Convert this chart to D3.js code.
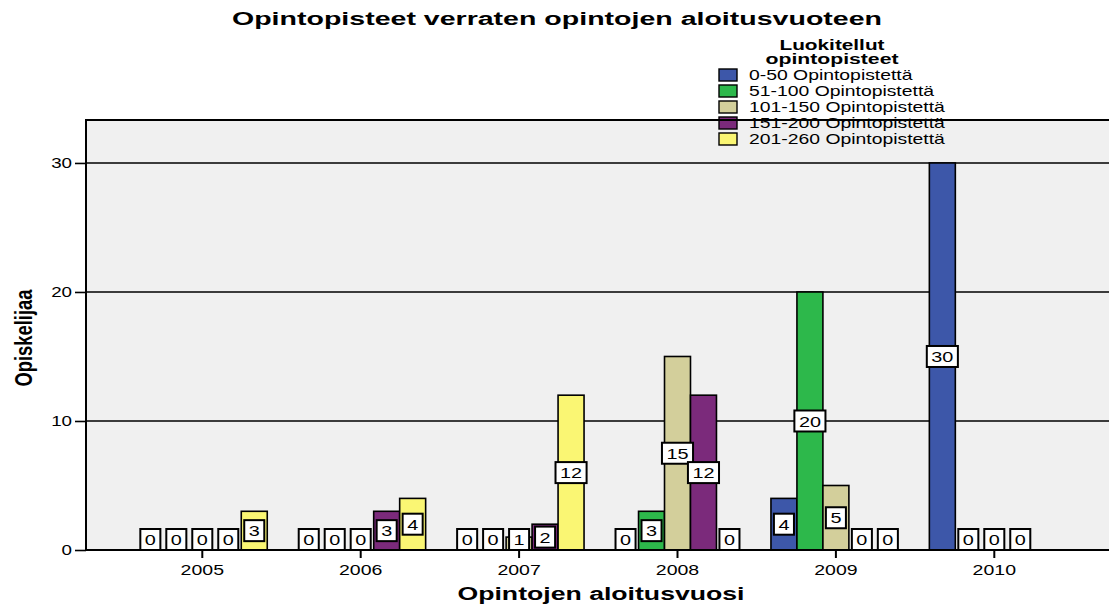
<!DOCTYPE html>
<html>
<head>
<meta charset="utf-8">
<script src="https://cdn.jsdelivr.net/npm/d3@7"></script>
<style>
    body { margin: 0; background: #fff; }
    text { font-family: "Liberation Sans", Arial, sans-serif; fill: #000; }
</style>
</head>
<body>
<div id="chart"></div>
<script>
// Opintopisteet verraten opintojen aloitusvuoteen

var years = ["2005", "2006", "2007", "2008", "2009", "2010"];
var seriesNames = ["0-50 Opintopistettä", "51-100 Opintopistettä", "101-150 Opintopistettä",
    "151-200 Opintopistettä", "201-260 Opintopistettä"];
var seriesColors = ["#3d57a9", "#2db84b", "#d3cf9b", "#7b2a7b", "#faf673"];

// students per year, one list per credit class (null = no label)
var credits0to50 = [0, 0, 0, 0, 4, 30];
var credits51to100 = [0, 0, 0, 3, 20, 0];
var credits101to150 = [0, 0, 1, 15, 5, 0];
var credits151to200 = [0, 3, 2, 12, 0, 0];
var credits201to260 = [3, 4, 12, 0, 0, null];

var yTicks = [0, 10, 20, 30];

var seriesValues = [credits0to50, credits51to100, credits101to150, credits151to200, credits201to260];

var W = 1109, H = 604;
var plot = {left: 86, top: 120, right: 1109, bottom: 550};

var svg = d3.select("#chart").append("svg")
    .attr("width", W)
    .attr("height", H);

// stretch text horizontally, the original export looks widened
function stretch(sel, k) {
    sel.each(function() {
        var w = this.getComputedTextLength();
        d3.select(this).attr("textLength", w * k).attr("lengthAdjust", "spacingAndGlyphs");
    });
}

var x = d3.scaleBand()
    .domain(years)
    .range([123.1, 1073.5])
    .paddingInner(0.18)
    .paddingOuter(0.09);

var xSub = d3.scaleBand()
    .domain(d3.range(seriesNames.length))
    .range([0, x.bandwidth()]);

var y = d3.scaleLinear()
    .domain([0, 33.33])
    .range([plot.bottom, plot.top]);

// background
svg.append("rect")
    .attr("x", plot.left)
    .attr("y", plot.top)
    .attr("width", plot.right - plot.left)
    .attr("height", plot.bottom - plot.top)
    .attr("fill", "#f0f0f0");

// grid
svg.selectAll("line.grid")
    .data(yTicks.filter(function(d) { return d > 0; }))
    .enter().append("line")
    .attr("class", "grid")
    .attr("x1", plot.left).attr("x2", plot.right)
    .attr("y1", function(d) { return y(d); })
    .attr("y2", function(d) { return y(d); })
    .attr("stroke", "#000")
    .attr("stroke-width", 1.6);

// flatten data
var cells = [];
years.forEach(function(yr, i) {
    seriesValues.forEach(function(vals, s) {
        cells.push({year: yr, s: s, v: vals[i]});
    });
});

var bars = svg.append("g");
bars.selectAll("rect")
    .data(cells.filter(function(d) { return d.v > 0; }))
    .enter().append("rect")
    .attr("x", function(d) { return x(d.year) + xSub(d.s); })
    .attr("y", function(d) { return y(d.v); })
    .attr("width", xSub.bandwidth())
    .attr("height", function(d) { return y(0) - y(d.v); })
    .attr("fill", function(d) { return seriesColors[d.s]; })
    .attr("stroke", "#000")
    .attr("stroke-width", 1.6);

// value labels
var boxH = 21;
var lab = svg.append("g").selectAll("g")
    .data(cells.filter(function(d) { return d.v !== null; }))
    .enter().append("g")
    .attr("transform", function(d) {
        var cx = x(d.year) + xSub(d.s) + xSub.bandwidth() / 2;
        var cy = Math.min(y(d.v / 2), y(0) - boxH / 2);
        return "translate(" + cx + "," + cy + ")";
    });

lab.append("rect");
lab.append("text")
    .attr("text-anchor", "middle")
    .attr("dy", "0.36em")
    .style("font-size", "15.5px")
    .text(function(d) { return d.v; })
    .call(stretch, 1.28);

lab.each(function() {
    var g = d3.select(this);
    var w = +g.select("text").attr("textLength") + 9;
    g.select("rect")
        .attr("x", -w / 2).attr("y", -boxH / 2)
        .attr("width", w).attr("height", boxH)
        .attr("fill", "#fff")
        .attr("stroke", "#000")
        .attr("stroke-width", 2);
});

// legend
var lx = 719, ly = 75;
svg.append("text")
    .attr("x", 832).attr("y", 50)
    .attr("text-anchor", "middle")
    .style("font-size", "14.5px").style("font-weight", "bold")
    .attr("textLength", 105).attr("lengthAdjust", "spacingAndGlyphs")
    .text("Luokitellut");
svg.append("text")
    .attr("x", 832).attr("y", 64)
    .attr("text-anchor", "middle")
    .style("font-size", "14.5px").style("font-weight", "bold")
    .attr("textLength", 133).attr("lengthAdjust", "spacingAndGlyphs")
    .text("opintopisteet");

var legend = svg.selectAll("g.legend")
    .data(seriesNames)
    .enter().append("g")
    .attr("class", "legend")
    .attr("transform", function(d, i) { return "translate(" + lx + "," + (ly + i * 16) + ")"; });

legend.append("rect")
    .attr("x", 0).attr("y", -6)
    .attr("width", 18).attr("height", 12)
    .attr("fill", function(d, i) { return seriesColors[i]; })
    .attr("stroke", "#000")
    .attr("stroke-width", 1.4);

legend.append("text")
    .attr("x", 30)
    .attr("dy", "0.36em")
    .style("font-size", "15px")
    .text(function(d) { return d; })
    .call(stretch, 1.29);

// frame: top border and axes over everything
svg.append("line")
    .attr("x1", plot.left).attr("x2", plot.right)
    .attr("y1", plot.top).attr("y2", plot.top)
    .attr("stroke", "#000").attr("stroke-width", 2);

var yAxis = svg.append("g")
    .attr("transform", "translate(" + plot.left + ",0)")
    .call(d3.axisLeft(y).tickValues(yTicks).tickSize(11).tickPadding(3));
yAxis.select(".domain").remove();
yAxis.selectAll(".tick line").attr("stroke", "#000").attr("stroke-width", 1.6);
yAxis.selectAll(".tick text")
    .style("font-size", "15px").style("font-family", "Liberation Sans, Arial, sans-serif")
    .call(stretch, 1.25);

svg.append("line")
    .attr("x1", plot.left).attr("x2", plot.left)
    .attr("y1", plot.top - 1).attr("y2", plot.bottom + 1)
    .attr("stroke", "#000").attr("stroke-width", 2);

var xAxis = svg.append("g")
    .attr("transform", "translate(0," + plot.bottom + ")")
    .call(d3.axisBottom(x).tickSize(8).tickPadding(6));
xAxis.select(".domain").remove();
xAxis.selectAll(".tick line").attr("stroke", "#000").attr("stroke-width", 2);
xAxis.selectAll(".tick text")
    .style("font-size", "15px").style("font-family", "Liberation Sans, Arial, sans-serif")
    .call(stretch, 1.3);

svg.append("line")
    .attr("x1", plot.left).attr("x2", plot.right)
    .attr("y1", plot.bottom).attr("y2", plot.bottom)
    .attr("stroke", "#000").attr("stroke-width", 2);

// titles
svg.append("text")
    .attr("x", 557).attr("y", 25)
    .attr("text-anchor", "middle")
    .style("font-size", "18px").style("font-weight", "bold")
    .attr("textLength", 650).attr("lengthAdjust", "spacingAndGlyphs")
    .text("Opintopisteet verraten opintojen aloitusvuoteen");

svg.append("text")
    .attr("x", 601).attr("y", 600)
    .attr("text-anchor", "middle")
    .style("font-size", "18px").style("font-weight", "bold")
    .attr("textLength", 287).attr("lengthAdjust", "spacingAndGlyphs")
    .text("Opintojen aloitusvuosi");

svg.append("text")
    .attr("transform", "translate(32,338) rotate(-90)")
    .attr("text-anchor", "middle")
    .style("font-size", "23px").style("font-weight", "bold")
    .attr("textLength", 97).attr("lengthAdjust", "spacingAndGlyphs")
    .text("Opiskelijaa");
</script>
</body>
</html>
